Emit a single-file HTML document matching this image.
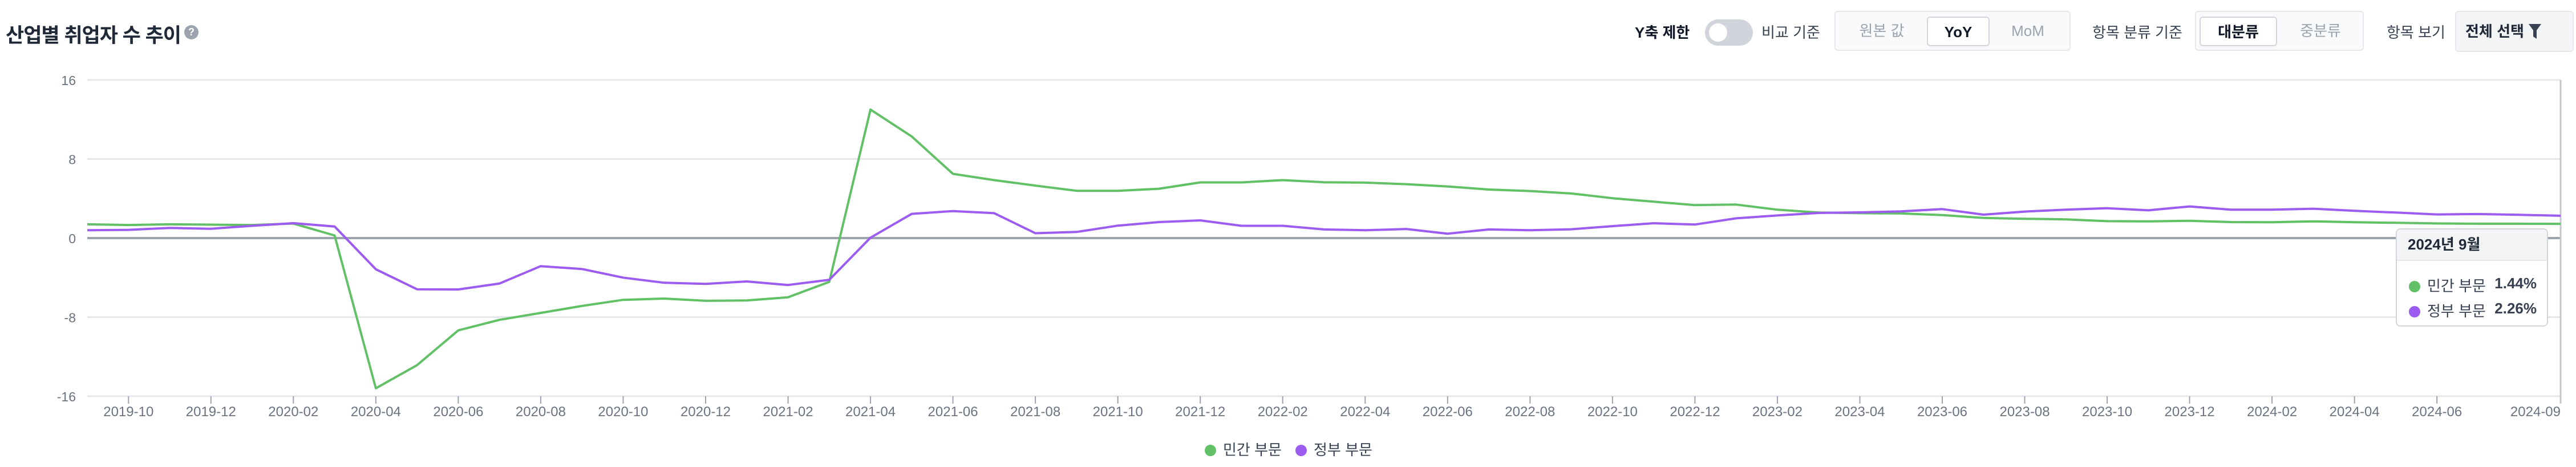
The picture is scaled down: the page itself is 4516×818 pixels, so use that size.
<!DOCTYPE html>
<html lang="ko"><head><meta charset="utf-8">
<style>
html,body{margin:0;padding:0;background:#fff;}
body{width:4516px;height:818px;position:relative;overflow:hidden;font-family:"Liberation Sans","Noto Sans CJK KR",sans-serif;color:#1f2937;}
.abs{position:absolute;}
.title{left:10px;top:34px;font-size:35px;font-weight:bold;color:#1f2937;white-space:nowrap;letter-spacing:-1px;}
.help{left:323px;top:44px;width:25px;height:25px;border-radius:50%;background:#9ca3af;color:#fff;font-size:18px;font-weight:bold;text-align:center;line-height:25px;}
.lbl{font-size:26px;color:#374151;white-space:nowrap;top:37px;}
.seg{border:2px solid #e5e7eb;background:#f9fafb;border-radius:6px;top:19px;height:70px;box-sizing:border-box;}
.opt{position:absolute;top:8px;height:52px;box-sizing:border-box;font-size:26px;line-height:50px;text-align:center;color:#9ca3af;}
.opt.on{background:#fff;border:2px solid #d1d5db;border-radius:6px;color:#111827;font-weight:bold;}
</style></head><body>
<div class="abs title">산업별 취업자 수 추이</div>
<div class="abs help">?</div>

<div class="abs lbl" style="left:2866px;font-weight:bold;color:#111827;">Y축 제한</div>
<div class="abs" style="left:2989px;top:34px;width:84px;height:46px;border-radius:23px;background:#d1d5db;"><div style="position:absolute;left:7px;top:7px;width:32px;height:32px;border-radius:50%;background:#fff;"></div></div>
<div class="abs lbl" style="left:3088px;">비교 기준</div>
<div class="abs seg" style="left:3216px;width:414px;">
 <div class="opt" style="left:16px;width:130px;">원본 값</div>
 <div class="opt on" style="left:160px;width:110px;">YoY</div>
 <div class="opt" style="left:282px;width:110px;">MoM</div>
</div>
<div class="abs lbl" style="left:3668px;">항목 분류 기준</div>
<div class="abs seg" style="left:3848px;width:296px;">
 <div class="opt on" style="left:6px;width:136px;">대분류</div>
 <div class="opt" style="left:150px;width:136px;">중분류</div>
</div>
<div class="abs lbl" style="left:4184px;">항목 보기</div>
<div class="abs" style="left:4304px;top:19px;width:208px;height:72px;box-sizing:border-box;border:2px solid #e5e7eb;border-radius:6px;background:#f3f4f6;font-size:26px;font-weight:bold;color:#1f2937;line-height:68px;padding-left:16px;">전체 선택 <svg width="24" height="30" viewBox="0 0 24 30" style="vertical-align:-6px"><path d="M1 2h22l-8 11v15l-6-4V13z" fill="#374151"/></svg></div>

<svg id="chart" class="abs" style="left:0;top:0" width="4516" height="818"></svg>

<div class="abs" style="left:4200px;top:400px;width:267px;height:172px;box-sizing:border-box;border:2px solid #d1d5db;border-radius:8px;background:#fff;overflow:hidden;">
 <div style="height:53px;background:#f3f4f6;border-bottom:2px solid #e5e7eb;font-size:26px;font-weight:bold;color:#1f2937;line-height:53px;padding-left:19px;">2024년 9월</div>
 <div style="position:absolute;left:21px;right:18px;top:79px;font-size:26px;color:#374151;white-space:nowrap;"><span style="display:inline-block;width:20px;height:20px;border-radius:50%;background:#62c066;vertical-align:-2px;margin-right:12px;"></span>민간 부문<span style="position:absolute;right:0;font-weight:bold;">1.44%</span></div>
 <div style="position:absolute;left:21px;right:18px;top:123px;font-size:26px;color:#374151;white-space:nowrap;"><span style="display:inline-block;width:20px;height:20px;border-radius:50%;background:#9d5cf0;vertical-align:-2px;margin-right:12px;"></span>정부 부문<span style="position:absolute;right:0;font-weight:bold;">2.26%</span></div>
</div>

<div class="abs" style="left:2112px;top:768px;font-size:26px;color:#374151;white-space:nowrap;"><span style="display:inline-block;width:20px;height:20px;border-radius:50%;background:#62c066;vertical-align:-2px;margin-right:12px;"></span>민간 부문</div>
<div class="abs" style="left:2271px;top:768px;font-size:26px;color:#374151;white-space:nowrap;"><span style="display:inline-block;width:20px;height:20px;border-radius:50%;background:#9d5cf0;vertical-align:-2px;margin-right:12px;"></span>정부 부문</div>

<script>
const months = (function(){const a=[];for(let y=2019,m=9;!(y===2024&&m>9);){a.push(y+'-'+String(m).padStart(2,'0'));m++;if(m>12){m=1;y++;}}return a;})();
const privateValues = [1.39,1.32,1.39,1.36,1.32,1.47,0.26,-15.2,-12.86,-9.34,-8.27,-7.57,-6.87,-6.25,-6.12,-6.35,-6.31,-5.99,-4.43,13.0,10.28,6.5,5.86,5.31,4.78,4.78,4.99,5.63,5.63,5.86,5.65,5.61,5.45,5.22,4.91,4.76,4.51,4.03,3.68,3.33,3.39,2.87,2.58,2.52,2.49,2.33,2.04,1.95,1.89,1.71,1.69,1.75,1.62,1.6,1.69,1.6,1.54,1.48,1.45,1.45,1.44];
const publicValues = [0.79,0.83,1.02,0.94,1.24,1.51,1.17,-3.16,-5.18,-5.2,-4.6,-2.84,-3.13,-4.0,-4.52,-4.63,-4.39,-4.75,-4.22,0.04,2.45,2.73,2.52,0.49,0.62,1.26,1.62,1.79,1.24,1.24,0.87,0.79,0.92,0.44,0.87,0.79,0.89,1.21,1.5,1.37,2.0,2.29,2.54,2.6,2.7,2.93,2.37,2.68,2.87,3.02,2.81,3.2,2.87,2.87,2.97,2.76,2.58,2.39,2.43,2.35,2.26];
const yTicks = [16,8,0,-8,-16];
const xTickLabels = ['2019-10','2019-12','2020-02','2020-04','2020-06','2020-08','2020-10','2020-12','2021-02','2021-04','2021-06','2021-08','2021-10','2021-12','2022-02','2022-04','2022-06','2022-08','2022-10','2022-12','2023-02','2023-04','2023-06','2023-08','2023-10','2023-12','2024-02','2024-04','2024-06','2024-09'];

const L=153,R=4489,T=140,B=694,yMin=-16,yMax=16;
const xs=i=>L+(R-L)*i/(months.length-1);
const ys=v=>B-(v-yMin)/(yMax-yMin)*(B-T);
const NS='http://www.w3.org/2000/svg';
const svg=document.getElementById('chart');
function mk(tag,at){const e=document.createElementNS(NS,tag);for(const k in at)e.setAttribute(k,at[k]);svg.appendChild(e);return e;}

yTicks.forEach(v=>{
  const g=mk('line',{x1:L,x2:R,y1:ys(v),y2:ys(v),stroke:v===0?'#9ca3af':'#e5e7eb','stroke-width':v===0?4:3});
  
  
  const t=mk('text',{x:133,y:ys(v)+9,'text-anchor':'end','font-size':23,fill:'#6b7280','font-family':'Liberation Sans, sans-serif'});
  t.textContent=String(v);
  
  
});
xTickLabels.forEach(lab=>{
  const i=months.indexOf(lab);const x=xs(i);
  const tk=mk('line',{x1:x,x2:x,y1:B,y2:B+13,stroke:'#9ca3af','stroke-width':2});
  
  
  const t=mk('text',{x:x,y:729,'text-anchor':i===months.length-1?'end':'middle','font-size':24,fill:'#6b7280','font-family':'Liberation Sans, sans-serif'});
  t.textContent=lab;
  
  
});
const cross=mk('line',{x1:R,x2:R,y1:T,y2:B+13,stroke:'#c4c7cc','stroke-width':3});


function series(vals,color,name){
  const p=mk('polyline',{points:vals.map((v,i)=>xs(i).toFixed(1)+','+ys(v).toFixed(1)).join(' '),fill:'none',stroke:color,'stroke-width':4,'stroke-linejoin':'round'});
  
  
}
series(privateValues,'#62c066','private-sector-line');
series(publicValues,'#9d5cf0','public-sector-line');
</script>
</body></html>
